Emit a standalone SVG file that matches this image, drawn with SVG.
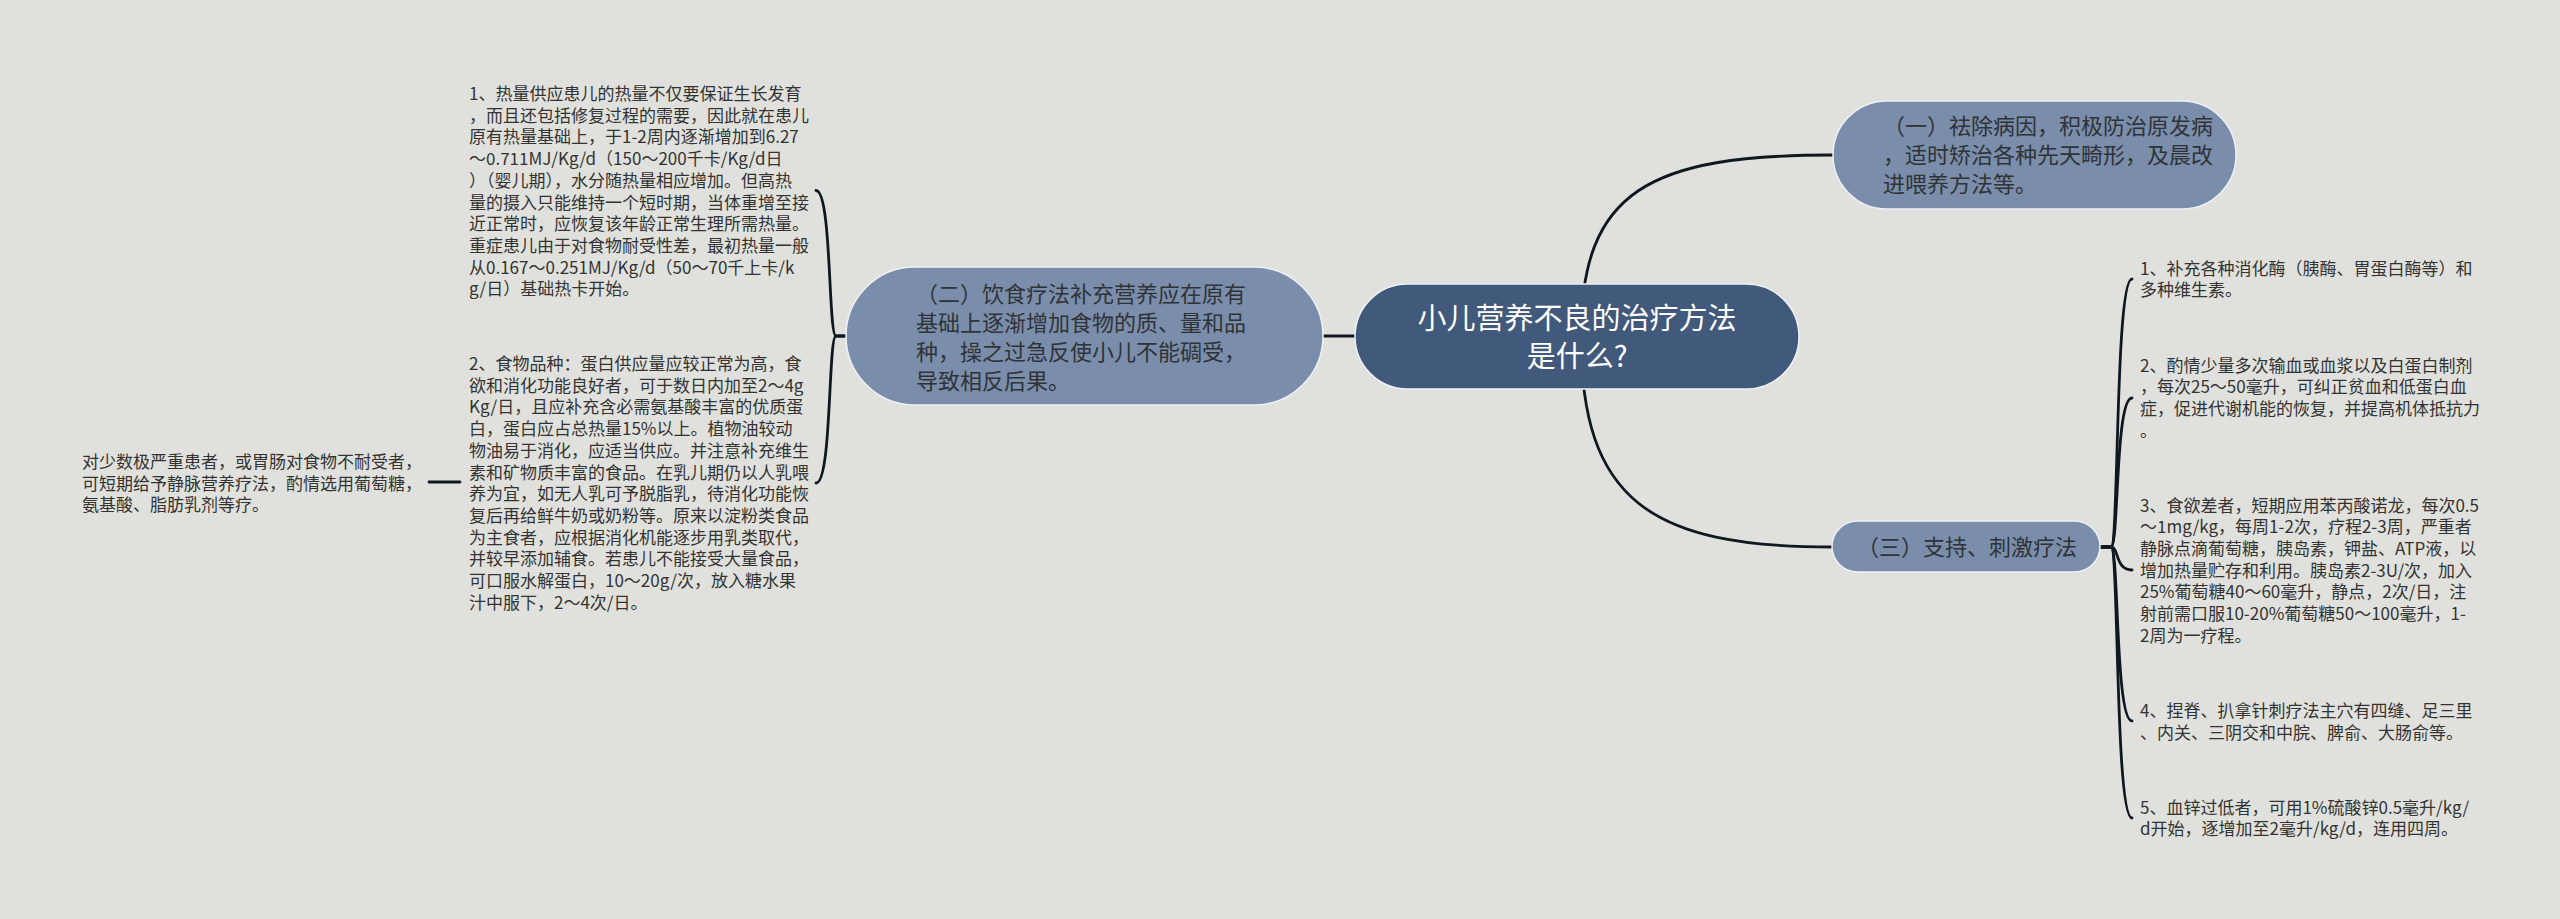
<svg xmlns="http://www.w3.org/2000/svg" width="2560" height="919" viewBox="0 0 2560 919">
<style>
.bg{fill:#e0e1dc}
.root{fill:#41597a;stroke:#eef1f5;stroke-width:1.5}
.sub{fill:#7a8daa;stroke:#eef1f5;stroke-width:1.5}
.rt{font-family:"Noto Sans CJK SC","Noto Sans",sans-serif;font-size:29px;fill:#ffffff;text-anchor:middle}
.st{font-family:"Noto Sans CJK SC","Noto Sans",sans-serif;font-size:22px;fill:#2f3337}
.lt{font-family:"Noto Sans CJK SC","Noto Sans",sans-serif;font-size:17px;fill:#333333}
.ln{fill:none;stroke:#0f1720;stroke-width:2.8;stroke-linecap:round}
</style>
<rect class="bg" x="0" y="0" width="2560" height="919"/>
<g id="connectors">
<path class="ln" d="M1581 336 C1581 190 1650 155 1833 155"/>
<path class="ln" d="M1581 336 C1581 500 1650 547 1832 547"/>
<path class="ln" d="M1323 336 H1355"/>
<path class="ln" d="M847 336 L836 336 C828 336 832 190.5 816 190.5"/>
<path class="ln" d="M847 336 L836 336 C828 336 832 483 816 483"/>
<path class="ln" d="M429 482 H460"/>
<path class="ln" d="M2100 547 L2111 547 C2119 547 2115 279 2132 279"/>
<path class="ln" d="M2100 547 L2111 547 C2119 547 2115 398 2132 398"/>
<path class="ln" d="M2100 547 L2111 547 C2119 547 2115 570 2132 570"/>
<path class="ln" d="M2100 547 L2111 547 C2119 547 2115 721 2132 721"/>
<path class="ln" d="M2100 547 L2111 547 C2119 547 2115 818 2132 818"/>
</g>
<g id="root">
<rect class="root" x="1355" y="284" width="444" height="105" rx="52.5"/>
<text class="rt" x="1577" y="329">小儿营养不良的治疗方法</text>
<text class="rt" x="1577" y="367">是什么?</text>
</g>
<g id="node1">
<rect class="sub" x="1833" y="101" width="403" height="108" rx="54"/>
<text class="st" x="1883" y="134">（一）祛除病因，积极防治原发病</text>
<text class="st" x="1883" y="163">，适时矫治各种先天畸形，及晨改</text>
<text class="st" x="1883" y="192">进喂养方法等。</text>
</g>
<g id="node2">
<rect class="sub" x="846" y="267" width="477" height="138" rx="69"/>
<text class="st" x="916" y="302">（二）饮食疗法补充营养应在原有</text>
<text class="st" x="916" y="331">基础上逐渐增加食物的质、量和品</text>
<text class="st" x="916" y="360">种，操之过急反使小儿不能碉受，</text>
<text class="st" x="916" y="389">导致相反后果。</text>
</g>
<g id="node3">
<rect class="sub" x="1832" y="521" width="268" height="51" rx="25.5"/>
<text class="st" x="1857" y="555">（三）支持、刺激疗法</text>
</g>
<g id="leaf2a">
<text class="lt" x="469" y="100">1、热量供应患儿的热量不仅要保证生长发育</text>
<text class="lt" x="469" y="121.7">，而且还包括修复过程的需要，因此就在患儿</text>
<text class="lt" x="469" y="143.4">原有热量基础上，于1-2周内逐渐增加到6.27</text>
<text class="lt" x="469" y="165.1">～0.711MJ/Kg/d（150～200千卡/Kg/d日</text>
<text class="lt" x="469" y="186.8">）（婴儿期），水分随热量相应增加。但高热</text>
<text class="lt" x="469" y="208.5">量的摄入只能维持一个短时期，当体重增至接</text>
<text class="lt" x="469" y="230.2">近正常时，应恢复该年龄正常生理所需热量。</text>
<text class="lt" x="469" y="251.9">重症患儿由于对食物耐受性差，最初热量一般</text>
<text class="lt" x="469" y="273.6">从0.167～0.251MJ/Kg/d（50～70千上卡/k</text>
<text class="lt" x="469" y="295.3">g/日）基础热卡开始。</text>
</g>
<g id="leaf2b">
<text class="lt" x="469" y="370">2、食物品种：蛋白供应量应较正常为高，食</text>
<text class="lt" x="469" y="391.7">欲和消化功能良好者，可于数日内加至2～4g</text>
<text class="lt" x="469" y="413.4">Kg/日，且应补充含必需氨基酸丰富的优质蛋</text>
<text class="lt" x="469" y="435.1">白，蛋白应占总热量15%以上。植物油较动</text>
<text class="lt" x="469" y="456.8">物油易于消化，应适当供应。并注意补充维生</text>
<text class="lt" x="469" y="478.5">素和矿物质丰富的食品。在乳儿期仍以人乳喂</text>
<text class="lt" x="469" y="500.2">养为宜，如无人乳可予脱脂乳，待消化功能恢</text>
<text class="lt" x="469" y="521.9">复后再给鲜牛奶或奶粉等。原来以淀粉类食品</text>
<text class="lt" x="469" y="543.6">为主食者，应根据消化机能逐步用乳类取代，</text>
<text class="lt" x="469" y="565.3">并较早添加辅食。若患儿不能接受大量食品，</text>
<text class="lt" x="469" y="587">可口服水解蛋白，10～20g/次，放入糖水果</text>
<text class="lt" x="469" y="608.7">汁中服下，2～4次/日。</text>
</g>
<g id="leaf2b1">
<text class="lt" x="82" y="468">对少数极严重患者，或胃肠对食物不耐受者，</text>
<text class="lt" x="82" y="489.7">可短期给予静脉营养疗法，酌情选用葡萄糖，</text>
<text class="lt" x="82" y="511.4">氨基酸、脂肪乳剂等疗。</text>
</g>
<g id="leaf3a">
<text class="lt" x="2140" y="274.5">1、补充各种消化酶（胰酶、胃蛋白酶等）和</text>
<text class="lt" x="2140" y="296.2">多种维生素。</text>
</g>
<g id="leaf3b">
<text class="lt" x="2140" y="371.5">2、酌情少量多次输血或血浆以及白蛋白制剂</text>
<text class="lt" x="2140" y="393.2">，每次25～50毫升，可纠正贫血和低蛋白血</text>
<text class="lt" x="2140" y="414.9">症，促进代谢机能的恢复，并提高机体抵抗力</text>
<text class="lt" x="2140" y="436.6">。</text>
</g>
<g id="leaf3c">
<text class="lt" x="2140" y="511.5">3、食欲差者，短期应用苯丙酸诺龙，每次0.5</text>
<text class="lt" x="2140" y="533.2">～1mg/kg，每周1-2次，疗程2-3周，严重者</text>
<text class="lt" x="2140" y="554.9">静脉点滴葡萄糖，胰岛素，钾盐、ATP液，以</text>
<text class="lt" x="2140" y="576.6">增加热量贮存和利用。胰岛素2-3U/次，加入</text>
<text class="lt" x="2140" y="598.3">25%葡萄糖40～60毫升，静点，2次/日，注</text>
<text class="lt" x="2140" y="620">射前需口服10-20%葡萄糖50～100毫升，1-</text>
<text class="lt" x="2140" y="641.7">2周为一疗程。</text>
</g>
<g id="leaf3d">
<text class="lt" x="2140" y="717.2">4、捏脊、扒拿针刺疗法主穴有四缝、足三里</text>
<text class="lt" x="2140" y="738.9">、内关、三阴交和中脘、脾俞、大肠俞等。</text>
</g>
<g id="leaf3e">
<text class="lt" x="2140" y="813.5">5、血锌过低者，可用1%硫酸锌0.5毫升/kg/</text>
<text class="lt" x="2140" y="835.2">d开始，逐增加至2毫升/kg/d，连用四周。</text>
</g>
</svg>
